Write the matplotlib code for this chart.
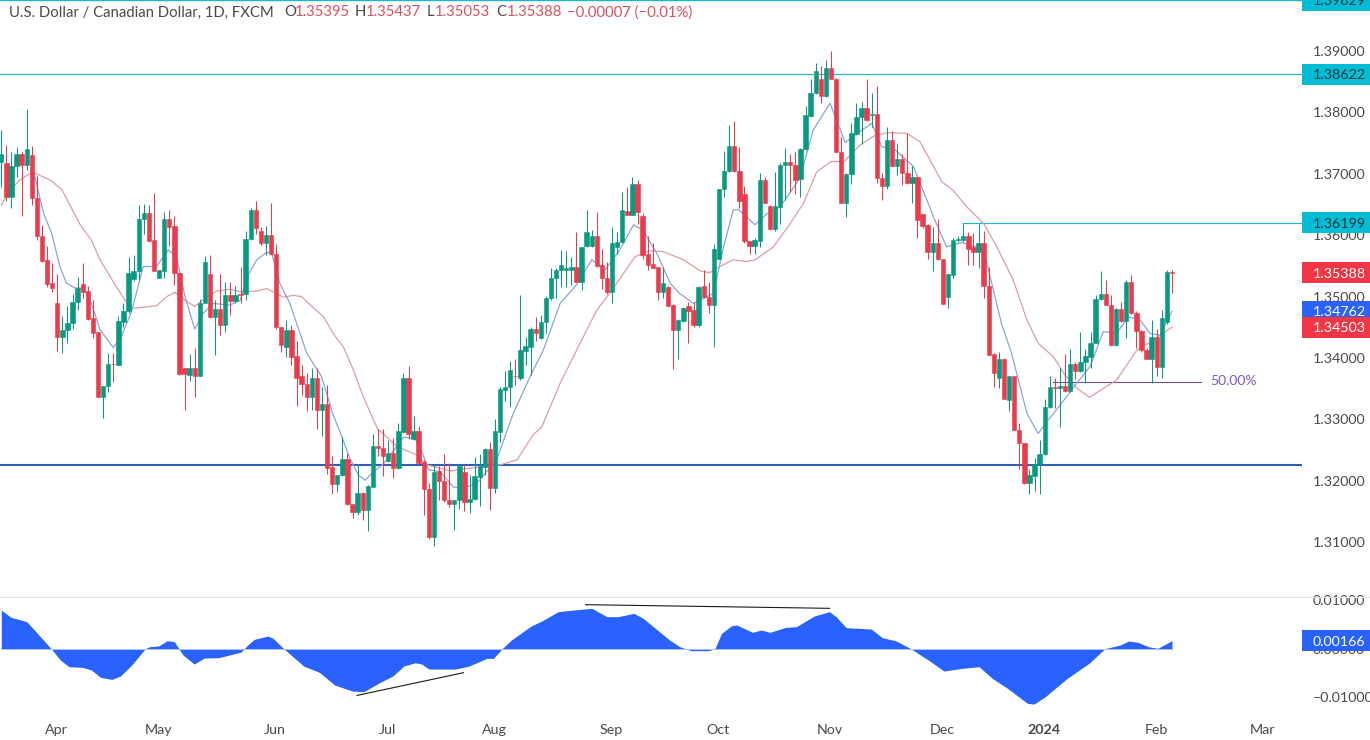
import matplotlib
matplotlib.use('Agg')
import matplotlib.pyplot as plt
from matplotlib.patches import Rectangle
from matplotlib.transforms import blended_transform_factory

plt.rcParams['font.family'] = ['Lato', 'DejaVu Sans']

opens = [1.3720,1.3717,1.3663,1.3712,1.3732,1.3715,1.3731,1.3660,1.3599,1.3560,
1.3522,1.3489,1.3435,1.3445,1.3457,1.3491,1.3521,1.3509,1.3465,1.3442,
1.3336,1.3354,1.3391,1.3389,1.3459,1.3476,1.3529,1.3541,1.3626,1.3636,
1.3592,1.3531,1.3542,1.3626,1.3615,1.3538,1.3383,1.3372,1.3383,1.3371,
1.3489,1.3537,1.3466,1.3479,1.3454,1.3502,1.3493,1.3504,1.3504,1.3593,
1.3641,1.3607,1.3588,1.3601,1.3570,1.3450,1.3418,1.3445,1.3403,1.3370,
1.3358,1.3336,1.3368,1.3316,1.3325,1.3222,1.3195,1.3209,1.3235,1.3163,
1.3149,1.3180,1.3152,1.3190,1.3257,1.3253,1.3233,1.3246,1.3221,1.3279,
1.3367,1.3268,1.3281,1.3231,1.3186,1.3109,1.3216,1.3199,1.3168,1.3162,
1.3168,1.3214,1.3166,1.3171,1.3207,1.3223,1.3252,1.3188,1.3280,1.3348,
1.3352,1.3371,1.3368,1.3412,1.3418,1.3448,1.3432,1.3459,1.3497,1.3531,
1.3544,1.3544,1.3544,1.3549,1.3524,1.3582,1.3582,1.3599,1.3551,1.3531,
1.3508,1.3580,1.3589,1.3640,1.3633,1.3684,1.3631,1.3569,1.3553,1.3548,
1.3508,1.3516,1.3486,1.3446,1.3461,1.3484,1.3478,1.3453,1.3517,1.3499,
1.3487,1.3562,1.3675,1.3705,1.3745,1.3705,1.3667,1.3590,1.3583,1.3591,
1.3690,1.3648,1.3610,1.3646,1.3715,1.3719,1.3714,1.3691,1.3740,1.3794,
1.3831,1.3854,1.3826,1.3873,1.3855,1.3736,1.3653,1.3700,1.3765,1.3792,
1.3807,1.3796,1.3797,1.3693,1.3680,1.3755,1.3713,1.3724,1.3701,1.3685,
1.3694,1.3634,1.3616,1.3573,1.3588,1.3561,1.3500,1.3535,1.3592,1.3592,
1.3599,1.3580,1.3573,1.3588,1.3518,1.3406,1.3367,1.3399,1.3332,1.3371,
1.3283,1.3262,1.3196,1.3208,1.3227,1.3243,1.3321,1.3353,1.3351,1.3355,
1.3346,1.3390,1.3379,1.3394,1.3402,1.3425,1.3496,1.3505,1.3487,1.3421,
1.3479,1.3461,1.3523,1.3474,1.3444,1.3413,1.3398,1.3434,1.3386,1.3459,
1.35395]
highs = [1.3772,1.3747,1.3736,1.3744,1.3736,1.3805,1.3745,1.3696,1.3617,1.3582,
1.3554,1.3536,1.3468,1.3484,1.3505,1.3532,1.3555,1.3517,1.3494,1.3443,
1.3354,1.3408,1.3408,1.3468,1.3489,1.3564,1.3568,1.3649,1.3651,1.3649,
1.3668,1.3543,1.3638,1.3641,1.3631,1.3539,1.3383,1.3406,1.3416,1.3496,
1.3566,1.3568,1.3494,1.3537,1.3524,1.3523,1.3518,1.3549,1.3607,1.3645,
1.3655,1.3614,1.3615,1.3652,1.3586,1.3450,1.3462,1.3454,1.3427,1.3389,
1.3375,1.3383,1.3383,1.3353,1.3356,1.3240,1.3209,1.3272,1.3246,1.3163,
1.3227,1.3181,1.3193,1.3277,1.3285,1.3285,1.3266,1.3269,1.3294,1.3375,
1.3387,1.3305,1.3289,1.3234,1.3197,1.3228,1.3224,1.3244,1.3229,1.3168,
1.3227,1.3227,1.3209,1.3239,1.3244,1.3253,1.3264,1.3300,1.3353,1.3379,
1.3395,1.3399,1.3503,1.3435,1.3450,1.3466,1.3470,1.3501,1.3546,1.3546,
1.3576,1.3575,1.3565,1.3606,1.3581,1.3641,1.3608,1.3638,1.3577,1.3557,
1.3614,1.3606,1.3670,1.3679,1.3695,1.3690,1.3636,1.3598,1.3587,1.3549,
1.3549,1.3517,1.3488,1.3463,1.3483,1.3492,1.3492,1.3517,1.3543,1.3524,
1.3586,1.3676,1.3737,1.3779,1.3786,1.3744,1.3680,1.3590,1.3595,1.3701,
1.3694,1.3649,1.3703,1.3717,1.3742,1.3733,1.3736,1.3742,1.3810,1.3854,
1.3880,1.3875,1.3885,1.3900,1.3856,1.3760,1.3701,1.3782,1.3816,1.3817,
1.3855,1.3831,1.3843,1.3701,1.3777,1.3769,1.3750,1.3733,1.3766,1.3712,
1.3695,1.3634,1.3619,1.3614,1.3626,1.3562,1.3537,1.3595,1.3598,1.3619,
1.3606,1.3603,1.3619,1.3607,1.3549,1.3408,1.3409,1.3400,1.3371,1.3371,
1.3294,1.3262,1.3220,1.3237,1.3266,1.3333,1.3371,1.3367,1.3383,1.3406,
1.3414,1.3394,1.3443,1.3414,1.3443,1.3503,1.3542,1.3527,1.3503,1.3481,
1.3492,1.3527,1.3535,1.3476,1.3445,1.3416,1.3462,1.3448,1.3478,1.3544,
1.35437]
lows = [1.3679,1.3655,1.3645,1.3695,1.3631,1.3707,1.3649,1.3592,1.3557,1.3516,
1.3508,1.3412,1.3408,1.3424,1.3448,1.3478,1.3497,1.3462,1.3432,1.3336,
1.3302,1.3345,1.3361,1.3389,1.3450,1.3474,1.3526,1.3527,1.3602,1.3590,
1.3541,1.3531,1.3530,1.3582,1.3519,1.3372,1.3316,1.3363,1.3336,1.3370,
1.3489,1.3465,1.3405,1.3438,1.3443,1.3470,1.3489,1.3489,1.3494,1.3592,
1.3602,1.3584,1.3568,1.3569,1.3448,1.3409,1.3402,1.3389,1.3322,1.3340,
1.3314,1.3315,1.3285,1.3273,1.3211,1.3178,1.3181,1.3208,1.3161,1.3140,
1.3144,1.3136,1.3119,1.3190,1.3240,1.3208,1.3231,1.3205,1.3220,1.3278,
1.3268,1.3266,1.3227,1.3144,1.3106,1.3094,1.3169,1.3166,1.3158,1.3120,
1.3154,1.3151,1.3147,1.3169,1.3159,1.3209,1.3152,1.3180,1.3264,1.3330,
1.3321,1.3356,1.3364,1.3389,1.3372,1.3427,1.3431,1.3441,1.3495,1.3497,
1.3516,1.3516,1.3519,1.3523,1.3511,1.3581,1.3581,1.3549,1.3513,1.3504,
1.3490,1.3570,1.3588,1.3633,1.3633,1.3619,1.3562,1.3543,1.3546,1.3494,
1.3497,1.3484,1.3382,1.3398,1.3458,1.3425,1.3451,1.3450,1.3497,1.3473,
1.3418,1.3561,1.3663,1.3703,1.3703,1.3644,1.3588,1.3570,1.3570,1.3580,
1.3652,1.3609,1.3607,1.3619,1.3658,1.3671,1.3667,1.3662,1.3739,1.3793,
1.3830,1.3816,1.3825,1.3855,1.3736,1.3653,1.3630,1.3683,1.3763,1.3748,
1.3786,1.3777,1.3685,1.3657,1.3676,1.3712,1.3698,1.3682,1.3684,1.3652,
1.3595,1.3611,1.3562,1.3542,1.3560,1.3488,1.3481,1.3530,1.3589,1.3589,
1.3551,1.3551,1.3546,1.3497,1.3405,1.3352,1.3351,1.3333,1.3313,1.3282,
1.3220,1.3195,1.3179,1.3184,1.3179,1.3242,1.3318,1.3318,1.3288,1.3345,
1.3345,1.3365,1.3378,1.3360,1.3383,1.3424,1.3494,1.3486,1.3421,1.3419,
1.3459,1.3432,1.3472,1.3416,1.3410,1.3398,1.3360,1.3370,1.3367,1.3456,
1.35053]
closes = [1.3732,1.3663,1.3713,1.3732,1.3715,1.3740,1.3660,1.3598,1.3558,1.3521,
1.3514,1.3435,1.3445,1.3457,1.3491,1.3514,1.3508,1.3464,1.3441,1.3336,
1.3354,1.3391,1.3390,1.3460,1.3477,1.3538,1.3542,1.3627,1.3636,1.3591,
1.3542,1.3543,1.3626,1.3614,1.3538,1.3374,1.3374,1.3383,1.3371,1.3489,
1.3557,1.3466,1.3479,1.3454,1.3503,1.3493,1.3503,1.3503,1.3593,1.3641,
1.3612,1.3588,1.3601,1.3570,1.3450,1.3421,1.3446,1.3402,1.3368,1.3358,
1.3336,1.3368,1.3316,1.3325,1.3221,1.3195,1.3209,1.3235,1.3162,1.3149,
1.3180,1.3152,1.3192,1.3256,1.3253,1.3240,1.3246,1.3221,1.3281,1.3367,
1.3276,1.3281,1.3229,1.3186,1.3109,1.3215,1.3199,1.3168,1.3162,1.3168,
1.3224,1.3166,1.3171,1.3208,1.3224,1.3252,1.3188,1.3281,1.3349,1.3352,
1.3380,1.3370,1.3413,1.3420,1.3448,1.3441,1.3459,1.3497,1.3531,1.3544,
1.3551,1.3546,1.3549,1.3524,1.3581,1.3605,1.3598,1.3550,1.3531,1.3508,
1.3588,1.3589,1.3641,1.3633,1.3684,1.3637,1.3568,1.3551,1.3547,1.3508,
1.3522,1.3485,1.3446,1.3462,1.3482,1.3477,1.3453,1.3516,1.3499,1.3487,
1.3577,1.3675,1.3705,1.3745,1.3705,1.3656,1.3590,1.3583,1.3592,1.3690,
1.3653,1.3610,1.3648,1.3715,1.3719,1.3714,1.3690,1.3740,1.3796,1.3831,
1.3867,1.3826,1.3873,1.3855,1.3736,1.3653,1.3700,1.3766,1.3792,1.3807,
1.3788,1.3797,1.3693,1.3680,1.3755,1.3713,1.3724,1.3701,1.3685,1.3694,
1.3624,1.3615,1.3573,1.3588,1.3561,1.3488,1.3536,1.3592,1.3593,1.3598,
1.3577,1.3573,1.3588,1.3518,1.3405,1.3375,1.3399,1.3333,1.3371,1.3282,
1.3262,1.3196,1.3209,1.3227,1.3243,1.3321,1.3352,1.3351,1.3355,1.3346,
1.3390,1.3379,1.3394,1.3403,1.3425,1.3496,1.3505,1.3486,1.3421,1.3479,
1.3461,1.3524,1.3473,1.3444,1.3413,1.3398,1.3434,1.3386,1.3465,1.3540,
1.35388]

# moving averages, read at the bends of each line
slow_idx = [0,1.7,3.7,5.3,6.6,9.6,11.9,13.8,15.5,17.7,19.4,22.0,24.3,25.9,30.5,32.5,34.1,36.1,38.0,40.3,
42.3,44.9,46.9,50.2,52.1,54.1,55.4,57.4,59.0,61.0,63.3,65.2,67.2,69.2,71.1,73.9,77.7,81.6,83.6,88.2,
91.4,95.4,98.0,101.3,104.5,106.2,109.8,113.7,117.0,120.2,124.5,127.4,130.1,134.0,137.3,139.2,141.2,
143.8,146.4,148.1,151.7,155.0,157.6,160.2,163.0,165.6,168.7,171.3,174.0,177.9,180.5,184.8,187.0,189.7,
193.0,195.6,198.8,201.5,203.7,206.7,209.0,211.3,213.8,219.1,223.1,226.3,230]
slow_ma = [1.3649,1.3674,1.3690,1.3699,1.3701,1.3690,1.3674,1.3644,1.3617,1.3592,1.3560,1.3524,1.3494,1.3481,1.3485,1.3500,1.3507,1.3494,1.3484,1.3499,
1.3509,1.3512,1.3508,1.3509,1.3513,1.3505,1.3499,1.3502,1.3500,1.3484,1.3467,1.3440,1.3418,1.3380,1.3337,1.3285,1.3256,1.3242,1.3226,1.3216,
1.3220,1.3223,1.3226,1.3234,1.3275,1.3288,1.3359,1.3424,1.3478,1.3513,1.3565,1.3575,1.3573,1.3560,1.3542,1.3539,1.3549,
1.3560,1.3557,1.3560,1.3581,1.3619,1.3652,1.3703,1.3720,1.3720,1.3747,1.3761,1.3767,1.3766,1.3752,1.3687,1.3673,1.3646,
1.3619,1.3581,1.3527,1.3462,1.3424,1.3402,1.3372,1.3351,1.3336,1.3364,1.3413,1.3429,1.34503]
fast_idx = [6.6,8.3,9.9,11.5,12.8,14.5,16.1,17.7,19.4,22.0,23.6,25.6,27.9,30.5,32.8,34.4,36.1,38.0,39.7,41.6,
44.9,46.9,48.5,50.2,52.1,53.1,54.7,56.7,60.0,62.9,65.2,66.9,68.5,70.2,71.5,72.8,75.1,77.7,79.0,81.3,
82.9,83.9,86.2,88.8,90.8,93.4,97.3,100.6,103.9,106.5,109.8,113.0,116.0,118.6,121.5,124.2,126.1,128.8,
131.4,133.3,136.0,139.9,141.9,143.8,144.8,148.1,150.4,153.0,156.9,159.5,162.8,165.8,168.7,171.0,173.0,
175.6,179.2,183.4,185.7,188.7,191.6,193.0,196.5,198.5,201.5,203.7,205.4,208.0,211.3,213.9,216.5,219.1,
221.4,223.7,225.7,227.6,230]
fast_ma = [1.3695,1.3636,1.3603,1.3549,1.3522,1.3514,1.3514,1.3489,1.3446,1.3417,1.3435,1.3476,1.3549,1.3549,1.3576,1.3565,1.3500,1.3447,1.3473,1.3489,
1.3486,1.3494,1.3535,1.3560,1.3572,1.3571,1.3522,1.3489,1.3408,1.3370,1.3307,1.3272,1.3236,1.3209,1.3201,1.3212,1.3228,1.3256,1.3271,1.3269,
1.3242,1.3218,1.3215,1.3190,1.3188,1.3196,1.3234,1.3310,1.3370,1.3413,1.3489,1.3519,1.3560,1.3543,1.3576,1.3617,1.3608,1.3570,
1.3522,1.3505,1.3489,1.3505,1.3581,1.3641,1.3642,1.3617,1.3635,1.3646,1.3693,1.3771,1.3815,1.3751,1.3769,1.3782,1.3744,
1.3739,1.3712,1.3625,1.3581,1.3588,1.3581,1.3576,1.3456,1.3407,1.3310,1.3277,1.3296,1.3323,1.3359,1.3386,1.3443,1.3440,
1.3467,1.3462,1.3440,1.3437,1.34762]

# lower pane oscillator
osc_idx = [0,1.9,5.0,6.8,9.8,11.6,13.3,16.0,17.7,19.5,21.7,23.4,25.6,28.3,29.1,30.9,32.6,34.0,35.7,37.9,
39.9,42.7,47.1,48.4,49.7,52.4,53.4,55.5,59.4,62.5,65.5,69.0,71.2,74.3,76.9,79.1,81.3,82.6,84.0,89.2,
91.9,95.4,96.7,98.4,100.2,104.1,106.3,109.4,112.5,116.0,119.0,121.2,124.3,126.1,131.3,133.3,135.5,138.9,
140.2,141.5,143.5,144.5,147.6,149.3,151.0,154.1,156.2,159.7,162.7,164.0,166.0,170.9,173.1,175.7,178.7,
182.6,185.2,188.7,192.1,194.7,197.7,201.6,202.9,205.1,209.4,213.7,216.8,219.8,221.5,223.3,225.4,227.2,230]
osc_val = [0.00795,0.00644,0.00555,0.00349,0,-0.00233,-0.00370,-0.00384,-0.00438,-0.00589,-0.00630,-0.00562,-0.00336,0,0.00041,0.00055,0.00164,0.00144,-0.00130,-0.00315,
-0.00192,-0.00185,-0.00069,0.00075,0.00192,0.00260,0.00212,0,-0.00356,-0.00486,-0.00747,-0.00870,-0.00884,-0.00699,-0.00562,-0.00356,-0.00288,-0.00315,-0.00418,-0.00418,
-0.00356,-0.00199,-0.00199,0,0.00178,0.00466,0.00575,0.00760,0.00795,0.00829,0.00658,0.00658,0.00726,0.00623,0.00178,0.00041,-0.00041,-0.00041,
0,0.00315,0.00473,0.00486,0.00336,0.00384,0.00336,0.00438,0.00452,0.00671,0.00760,0.00658,0.00432,0.00404,0.00226,0.00164,0,
-0.00267,-0.00459,-0.00404,-0.00370,-0.00610,-0.00815,-0.01123,-0.01137,-0.00986,-0.00610,-0.00301,0,0.00075,0.00158,0.00130,0.00041,0.00007,0.00166]
trend_low_idx = [69.9, 90.8]
trend_low_val = [-0.00959, -0.00493]
trend_high_idx = [114.8, 162.7]
trend_high_val = [0.00904, 0.00829]

price_ticks = [1.31,1.32,1.33,1.34,1.35,1.36,1.37,1.38,1.39]
osc_ticks = [-0.01,0,0.01]
month_pos = [10.8,30.8,53.8,75.8,96.8,119.8,140.8,162.8,184.8,204.8,227,247.8]
month_names = ['Apr','May','Jun','Jul','Aug','Sep','Oct','Nov','Dec','2024','Feb','Mar']

level_top = 1.39829
level_high = 1.38622
level_mid = 1.36199
level_low = 1.32256
fib_level = 1.33614

GREEN = '#089981'
RED = '#ea3a4b'
CYAN = '#1fb6c6'
TAG_CYAN = '#00bcd4'
BLUE = '#2962ff'
GREY = '#4a4a4a'

W, H = 1370, 740
BAR = 5.09
XOFF = 1.3
PANE_R = 1302
xlim = (-XOFF / BAR, (PANE_R - XOFF) / BAR)

fig = plt.figure(figsize=(W / 100, H / 100), dpi=100, facecolor='white')
ax = fig.add_axes([0, (H - 596) / H, PANE_R / W, 596 / H])
ax2 = fig.add_axes([0, (H - 712) / H, PANE_R / W, 115 / H])

ax.set_xlim(xlim)
ax.set_ylim(1.39 - 545 / 6140, 1.39 + 51 / 6140)
ax2.set_xlim(xlim)
ax2.set_ylim(-63.3 / 4870, 51.7 / 4870)

for a in (ax, ax2):
    for s in a.spines.values():
        s.set_visible(False)

# reference levels
ax.plot([xlim[0], xlim[1]], [level_top, level_top], color=CYAN, lw=1, zorder=1, clip_on=False)
ax.axhline(level_high, color=CYAN, lw=0.85, zorder=1)
ax.plot([188.8, xlim[1]], [level_mid, level_mid], color=CYAN, lw=0.85, zorder=1, solid_capstyle='butt')
ax.axhline(level_low, color='#2f5fb5', lw=1.5, zorder=1)
ax.plot([206.7, 235.7], [fib_level, fib_level], color='#6a4a9c', lw=0.75, zorder=1)
ax.text(237.6, fib_level + 0.00005, '50.00%', color='#7e57c2', fontsize=10, va='center', ha='left')

ax.plot(slow_idx, slow_ma, color='#e59aa0', lw=0.9, zorder=2, solid_joinstyle='round')
ax.plot(fast_idx, fast_ma, color='#8ba3dc', lw=0.9, zorder=2, solid_joinstyle='round')

# candles
idx = list(range(len(opens)))
colors = [GREEN if c >= o else RED for o, c in zip(opens, closes)]
ax.vlines(idx, lows, highs, colors=colors, lw=0.75, zorder=3)
bottoms = [min(o, c) for o, c in zip(opens, closes)]
heights = [abs(o - c) for o, c in zip(opens, closes)]
ax.bar(idx, heights, bottom=bottoms, width=0.86, color=colors, edgecolor=colors, linewidth=0.4, zorder=4)

ax.set_yticks(price_ticks)
ax.set_yticklabels(['%.5f' % p for p in price_ticks])
ax.yaxis.tick_right()
ax.tick_params(axis='y', length=0, pad=8, labelsize=10.3, labelcolor=GREY)
ax.set_xticks([])

# price tags on the right scale
def price_tag(axis, value, text, bg, fg, px_per_unit):
    tf = blended_transform_factory(fig.transFigure, axis.transData)
    h = 10.5 / px_per_unit
    axis.add_patch(Rectangle((PANE_R / W, value - h), 1 - PANE_R / W, 2 * h, transform=tf,
                             facecolor=bg, edgecolor='none', zorder=10, clip_on=False))
    axis.text(1312.5 / W, value, text, transform=tf, color=fg, fontsize=10.3, va='center_baseline',
              ha='left', zorder=11, clip_on=False)

price_tag(ax, level_top, '1.39829', TAG_CYAN, '#17393f', 6140)
price_tag(ax, level_high, '1.38622', TAG_CYAN, '#17393f', 6140)
price_tag(ax, level_mid, '1.36199', TAG_CYAN, '#17393f', 6140)
price_tag(ax, closes[-1], '1.35388', '#f23645', 'white', 6140)
price_tag(ax, fast_ma[-1], '1.34762', BLUE, 'white', 6140)
price_tag(ax, slow_ma[-1], '1.34503', '#f23645', 'white', 6140)

# oscillator pane
ax2.fill_between(osc_idx, osc_val, 0, color=BLUE, linewidth=0, zorder=2)
ax2.plot([0, 230], [0, 0], color='#a9c0ff', lw=0.75, zorder=3)
ax2.plot(trend_low_idx, trend_low_val, color='#1a1a1a', lw=0.8, zorder=4)
ax2.plot(trend_high_idx, trend_high_val, color='#1a1a1a', lw=0.8, zorder=4, clip_on=False)
ax2.set_yticks(osc_ticks)
ax2.set_yticklabels(['\u22120.01000', '0.00000', '0.01000'])
ax2.yaxis.tick_right()
ax2.tick_params(axis='y', length=0, pad=8, labelsize=10.3, labelcolor=GREY)
ax2.set_xticks(month_pos)
ax2.set_xticklabels(month_names)
ax2.tick_params(axis='x', length=0, pad=9, labelsize=10.3, labelcolor=GREY)
ax2.get_xticklabels()[9].set_fontweight('bold')
price_tag(ax2, osc_val[-1], '0.00166', BLUE, 'white', 4870)

# separator between panes
fig.add_artist(plt.Line2D([0, 1], [(H - 596.5) / H] * 2, color='#e0e3eb', lw=0.8))

# legend line at the top left
header = [(9, 'U.S. Dollar / Canadian Dollar, 1D, FXCM', GREY), (284, 'O', GREY), (295, '1.35395', '#d9525e'),
          (355, 'H', GREY), (366, '1.35437', '#d9525e'), (427, 'L', GREY), (435, '1.35053', '#d9525e'),
          (496, 'C', GREY), (507, '1.35388', '#d9525e'), (567, '\u22120.00007 (\u22120.01%)', '#d9525e')]
for px, s, col in header:
    fig.text(px / W, (H - 11) / H, s, color=col, fontsize=10.7, va='center_baseline', ha='left')

fig.savefig('out.png', dpi=100)
